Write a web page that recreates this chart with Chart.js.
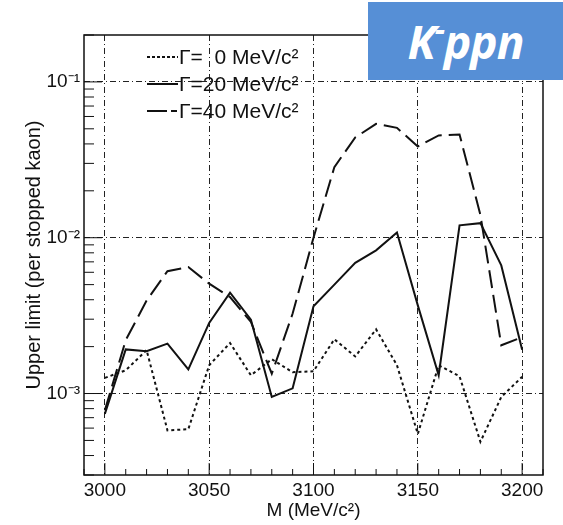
<!DOCTYPE html>
<html>
<head>
<meta charset="utf-8">
<script src="https://cdn.jsdelivr.net/npm/chart.js@4/dist/chart.umd.min.js"></script>
<style>
  html, body { margin: 0; padding: 0; background: #fff; }
  #wrap { position: relative; width: 563px; height: 525px; }
  #badge {
    position: absolute; left: 368px; top: 2px; width: 195px; height: 78px;
    background: #568fd6; color: #fff;
    font-family: "Open Sans", "Liberation Sans", sans-serif; font-weight: bold; font-style: italic;
    font-size: 46px; line-height: 78px; text-align: center; letter-spacing: -1px;
  }
  #badge sup { font-size: 32px; line-height: 0; vertical-align: 18px; }
</style>
</head>
<body>
<div id="wrap">
  <canvas id="c" width="563" height="525"></canvas>
  <div id="badge">K<sup>-</sup>ppn</div>
</div>
<script>
// ---- data ----
const masses = [3000, 3010, 3020, 3030, 3040, 3050, 3060, 3070, 3080, 3090, 3100,
                3110, 3120, 3130, 3140, 3150, 3160, 3170, 3180, 3190, 3200];
const gamma0  = [1.26e-3, 1.41e-3, 1.9e-3, 5.8e-4, 5.9e-4, 1.52e-3, 2.11e-3, 1.31e-3, 1.66e-3, 1.37e-3, 1.39e-3,
                 2.23e-3, 1.73e-3, 2.58e-3, 1.52e-3, 5.5e-4, 1.52e-3, 1.29e-3, 4.9e-4, 9.5e-4, 1.28e-3];
const gamma20 = [7.4e-4, 1.92e-3, 1.87e-3, 2.09e-3, 1.43e-3, 2.84e-3, 4.44e-3, 2.98e-3, 9.5e-4, 1.08e-3, 3.63e-3,
                 5.0e-3, 6.9e-3, 8.3e-3, 1.08e-2, 3.68e-3, 1.31e-3, 1.2e-2, 1.24e-2, 6.64e-3, 1.91e-3];
const gamma40 = [7.8e-4, 2.2e-3, 3.95e-3, 6.1e-3, 6.48e-3, 5.07e-3, 4.16e-3, 2.88e-3, 1.34e-3, 3.26e-3, 1.0e-2,
                 2.84e-2, 4.4e-2, 5.38e-2, 5.07e-2, 3.85e-2, 4.53e-2, 4.6e-2, 1.4e-2, 2.04e-3, 2.3e-3];
const seriesLabels = ['\u0393=  0 MeV/c\u00B2', '\u0393=20 MeV/c\u00B2', '\u0393=40 MeV/c\u00B2'];
const xTicks = [3000, 3050, 3100, 3150, 3200];
const yTicks = [1e-3, 1e-2, 1e-1];
const yTickLabels = ['10\u207B\u00B3', '10\u207B\u00B2', '10\u207B\u00B9'];
const xTitle = 'M (MeV/c\u00B2)';
const yTitle = 'Upper limit (per stopped kaon)';

const pts = arr => masses.map((m, i) => ({ x: m, y: arr[i] }));
const FONT = '"Liberation Sans", Arial, sans-serif';
const INK = '#111';

const framePlugin = {
  id: 'frame',
  afterDraw(chart) {
    const { ctx, chartArea: a, scales: { x, y } } = chart;
    ctx.save();
    ctx.strokeStyle = INK;
    ctx.lineWidth = 1.5;
    ctx.setLineDash([]);
    ctx.strokeRect(a.left, a.top, a.right - a.left, a.bottom - a.top);
    ctx.lineWidth = 1;
    ctx.beginPath();
    for (let r = Math.ceil(x.min / 10) * 10; r <= x.max; r += 10) {
      const px = x.getPixelForValue(r);
      const len = (r % 50 === 0) ? 12 : 6;
      ctx.moveTo(px, a.bottom);
      ctx.lineTo(px, a.bottom - len);
    }
    for (let e = -5; e <= 0; e++) {
      for (let k = 1; k <= 9; k++) {
        const v = k * Math.pow(10, e);
        if (v < y.min || v > y.max) continue;
        const py = y.getPixelForValue(v);
        const len = k === 1 ? 18 : 10;
        ctx.moveTo(a.left, py);
        ctx.lineTo(a.left + len, py);
      }
    }
    ctx.stroke();
    // legend
    const rows = [57, 84, 111];
    chart.data.datasets.forEach((ds, i) => {
      const yy = rows[i];
      ctx.strokeStyle = ds.borderColor;
      ctx.lineWidth = ds.borderWidth;
      ctx.setLineDash(ds.legendDash || ds.borderDash || []);
      ctx.beginPath();
      ctx.moveTo(147, yy);
      ctx.lineTo(178, yy);
      ctx.stroke();
      ctx.setLineDash([]);
      ctx.fillStyle = INK;
      ctx.font = '21px ' + FONT;
      ctx.textBaseline = 'middle';
      ctx.textAlign = 'left';
      ctx.fillText(ds.label, 179, yy + 1);
    });
    ctx.restore();
  }
};

new Chart(document.getElementById('c'), {
  type: 'line',
  data: {
    datasets: [
      { label: seriesLabels[0], data: pts(gamma0), borderColor: INK, borderWidth: 2, borderDash: [3, 3], legendDash: [3, 2] },
      { label: seriesLabels[1], data: pts(gamma20), borderColor: INK, borderWidth: 2 },
      { label: seriesLabels[2], data: pts(gamma40), borderColor: INK, borderWidth: 2, borderDash: [18, 7], legendDash: [20, 4, 6, 4] }
    ]
  },
  options: {
    responsive: false,
    animation: false,
    devicePixelRatio: 1,
    layout: { padding: { top: 35, right: 20, left: 0, bottom: 0 } },
    elements: { point: { radius: 0 }, line: { tension: 0, fill: false } },
    plugins: { legend: { display: false }, tooltip: { enabled: false } },
    scales: {
      x: {
        type: 'linear', min: 2990, max: 3210,
        afterBuildTicks: s => { s.ticks = xTicks.map(v => ({ value: v })); },
        afterFit: s => { s.height = 50; },
        grid: { color: '#222', lineWidth: 1, drawTicks: false },
        border: { display: false, dash: [6, 3, 1, 3] },
        ticks: { color: INK, font: { family: FONT, size: 19 }, padding: 4, maxRotation: 0, callback: v => String(v) },
        title: { display: true, text: xTitle, color: INK, font: { family: FONT, size: 19 }, padding: { top: 0, bottom: 3 } }
      },
      y: {
        type: 'logarithmic', min: 3e-4, max: 0.2,
        afterBuildTicks: s => { s.ticks = yTicks.map(v => ({ value: v })); },
        afterFit: s => { s.width = 84; },
        grid: { color: '#222', lineWidth: 1, drawTicks: false },
        border: { display: false, dash: [6, 3, 1, 3] },
        ticks: {
          color: INK, font: { family: FONT, size: 19 }, padding: 4,
          callback: (v) => { const i = yTicks.findIndex(t => Math.abs(t - v) / t < 1e-6); return i >= 0 ? yTickLabels[i] : ''; }
        },
        title: { display: true, text: yTitle, color: INK, font: { family: FONT, size: 20 }, padding: { top: 22, bottom: 0 } }
      }
    }
  },
  plugins: [framePlugin]
});
</script>
</body>
</html>
